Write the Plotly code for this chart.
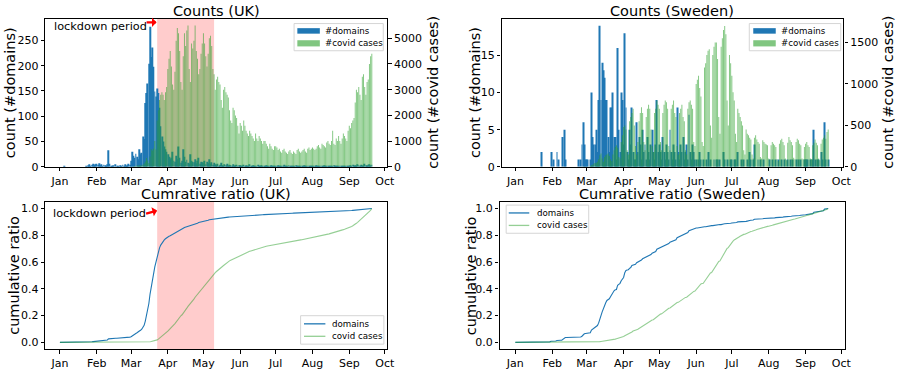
import numpy as np
import pandas as pd
import plotly.graph_objects as go

# ---------------- data (daily, 2020-01-01 .. 2020-09-20) ----------------
start_date = "2020-01-01"
n_days = 264

uk_domains = [
    0,0,0,0,1,0,0,0,0,0, 0,0,0,0,0,0,0,0,0,0, 0,0,2,0,3,5,2,4,6,3,5,
    6,4,7,3,5,2,4,3,1,5, 33,6,2,1,3,0,5,2,1,0, 3,2,4,1,5,2,3,6,4,
    12,30,22,18,26,20,15,35,25,28, 60,55,126,146,165,204,277,217,236,198, 149,139,155,146,117,80,60,50,40,35, 30,
    25,20,15,18,30,12,10,22,15,40, 18,8,12,35,20,10,14,8,6,25, 12,10,9,15,7,12,18,6,10,9,
    8,12,5,10,7,15,6,9,4,8, 5,3,6,2,4,8,3,2,5,3, 6,2,4,3,1,5,2,3,4,2, 3,
    3,2,1,4,2,3,1,2,5,2, 1,3,2,1,2,4,1,2,3,1, 2,1,3,2,1,2,3,1,2,1,
    2,1,3,1,2,1,2,4,1,2, 1,3,1,2,1,2,1,3,2,1, 2,1,1,2,3,1,2,1,2,1, 2,
    1,2,1,3,1,2,1,1,2,1, 3,1,2,1,1,2,1,1,3,1, 2,1,1,2,1,1,2,1,1,2, 1,
    2,3,1,4,2,3,2,5,3,2, 4,2,3,6,3,2,4,5,3,4,
]

uk_cases = [
    0,0,0,0,0,0,0,0,0,0, 0,0,0,0,0,0,0,0,0,0, 0,0,0,0,0,0,0,0,0,0, 2,
    0,0,0,0,0,0,0,0,1,0, 1,0,0,0,0,0,0,0,0,0, 0,0,0,0,4,0,2,5,3,
    2,5,12,30,35,48,50,60,50,55, 85,130,210,340,250,150,400,680,640,710,
    1000,670,1800,2200,2600,2800,2900,2800,2600,2900, 3100,
    3800,4200,4500,3900,3200,3000,3700,4900,5400,5200, 4500,3300,3000,4300,5200,4700,5300,5500,3800,3300,
    4800,4600,4900,5500,4500,4200,3600,3800,4400,4800,
    5200,4800,4300,3900,4400,5000,5100,4700,3800,3600, 3000,3400,3500,3300,3200,2600,2300,3000,3100,2900,
    2800,2700,2200,1800,1700,2300,2200,2000,1900,1600, 1300,
    1700,1600,1400,1800,1600,1400,1300, 1200,1400,1300,1200,1100,1000,1300, 1100,1000,1200,1100,1000,900,1000,
    1000,900,800,700,900,800,700, 650,800,
    800,750,650,700,600,550,650, 700,600,550,500,600,650,550, 500,600,550,500,650,700,600,
    550,600,650,700,600,550,700, 750,650,700,
    750,700,650,700,800,850,750, 700,900,850,800,750,950,1000, 900,850,1000,1400,900,850,1100,
    1000,1200,1000,900,1100,1300,1200, 1100,1000,1400,
    1600,1500,1700,1800,1900,2500,3000, 2900,3100,2800,2600,3500,3600,3100, 2800,3300,3400,4000,4300,4400,
]

se_domains = [
    0,0,0,0,0,0,0,0,0,0, 0,0,0,0,0,0,0,0,0,0, 0,0,2,0,0,0,0,0,0,0, 2,
    0,1,0,0,2,1,0,0,0,4, 5,1,0,0,0,0,0,0,0,0, 0,0,1,0,1,3,6,3,1,
    1,1,0,1,10,4,3,3,5,2, 9,19,9,14,13,12,9,9,4,2, 8,8,10,4,4,1,16,5,2,10, 9,
    3,18,8,2,1,5,3,8,2,1, 1,6,2,4,3,1,5,2,3,1, 4,2,1,3,5,2,1,3,9,2,
    3,2,1,4,2,1,3,2,1,5, 2,1,3,2,1,8,2,1,3,2, 4,1,2,3,1,7,2,1,3,2, 1,
    1,0,1,2,1,0,1,0,0,1, 2,0,1,0,0,1,0,1,1,0, 1,0,0,2,1,0,1,0,0,1,
    1,0,1,1,0,2,0,0,1,0, 1,0,0,1,0,2,1,0,1,3, 0,0,1,0,1,0,0,1,0,0, 0,
    0,1,0,1,0,0,1,0,1,0, 0,1,0,1,0,0,1,0,1,0, 1,0,0,1,0,1,0,1,0,0, 1,
    1,1,1,0,1,0,1,5,1,0, 1,1,0,2,1,0,6,1,0,1,
]

se_cases = [
    0,0,0,0,0,0,0,0,0,0, 0,0,0,0,0,0,0,0,0,0, 0,0,0,0,0,0,0,0,0,0, 1,
    0,0,0,0,0,0,0,0,0,0, 0,0,0,0,0,0,0,0,0,0, 0,0,0,0,0,1,5,3,2,
    2,5,5,10,20,25,40,45,50,60, 90,140,160,100,60,120,140,150,160,130,
    90,70,150,200,240,260,230,120,100,300, 380,
    480,500,450,200,150,550,600,650,700,500, 250,150,300,550,650,720,650,300,200,600,
    700,750,700,450,250,180,650,700,800,750,
    700,300,200,650,750,800,780,700,250,200, 700,750,800,650,600,250,150,650,700,750,
    600,550,200,150,700,780,800,750,700,300, 250,
    1000,1050,1100,950,850,300,250,1200,1250,1350, 1400,1420,500,350,1350,1450,1500,1500,1300,600,
    400,1450,1550,1650,1700,1600,800,500,1350,1250,
    1100,900,800,400,300,700,650,600,550,500, 200,150,450,400,380,350,330,150,100,350,
    380,330,300,280,120,100,320,300,280,270, 260,
    100,90,260,300,280,260,240,90,70,280, 320,340,300,260,100,80,290,360,320,300,
    260,110,90,300,340,320,280,260,100,90, 240,
    280,300,260,240,100,90,260,290,330,290, 260,100,80,280,330,350,380,340,420,450,
]

month_ticks = ["2020-01-01", "2020-02-01", "2020-03-01", "2020-04-01", "2020-05-01",
               "2020-06-01", "2020-07-01", "2020-08-01", "2020-09-01", "2020-10-01"]
month_labels = ["Jan", "Feb", "Mar", "Apr", "May", "Jun", "Jul", "Aug", "Sep", "Oct"]
lockdown_start, lockdown_end = "2020-03-23", "2020-05-10"

# ---------------- derived ----------------
dates = pd.date_range(start_date, periods=n_days, freq="D")
uk_dom_cum = np.cumsum(uk_domains) / np.sum(uk_domains)
uk_case_cum = np.cumsum(uk_cases) / np.sum(uk_cases)
se_dom_cum = np.cumsum(se_domains) / np.sum(se_domains)
se_case_cum = np.cumsum(se_cases) / np.sum(se_cases)

W, H = 901, 375
def px(x): return x / W
def py(y): return 1 - y / H

BLUE = "#1f77b4"
GREEN_BAR = "rgba(44,160,44,0.6)"
GREEN_LINE = "rgba(44,160,44,0.5)"
FONT = "DejaVu Sans"
DAY_MS = 86400000
bw = 0.8 * DAY_MS

fig = go.Figure()
fig.add_trace(go.Bar(x=dates, y=uk_domains, width=bw, marker=dict(color=BLUE, line=dict(width=0)),
                     xaxis="x", yaxis="y", name="#domains", showlegend=False))
fig.add_trace(go.Bar(x=dates, y=uk_cases, width=bw, marker=dict(color=GREEN_BAR, line=dict(width=0)),
                     xaxis="x", yaxis="y2", name="#covid cases", showlegend=False))
fig.add_trace(go.Bar(x=dates, y=se_domains, width=bw, marker=dict(color=BLUE, line=dict(width=0)),
                     xaxis="x2", yaxis="y3", name="#domains", showlegend=False))
fig.add_trace(go.Bar(x=dates, y=se_cases, width=bw, marker=dict(color=GREEN_BAR, line=dict(width=0)),
                     xaxis="x2", yaxis="y4", name="#covid cases", showlegend=False))
fig.add_trace(go.Scatter(x=dates, y=uk_dom_cum, mode="lines", line=dict(color=BLUE, width=1.1),
                         xaxis="x3", yaxis="y5", showlegend=False))
fig.add_trace(go.Scatter(x=dates, y=uk_case_cum, mode="lines", line=dict(color=GREEN_LINE, width=1.1),
                         xaxis="x3", yaxis="y5", showlegend=False))
fig.add_trace(go.Scatter(x=dates, y=se_dom_cum, mode="lines", line=dict(color=BLUE, width=1.1),
                         xaxis="x4", yaxis="y6", showlegend=False))
fig.add_trace(go.Scatter(x=dates, y=se_case_cum, mode="lines", line=dict(color=GREEN_LINE, width=1.1),
                         xaxis="x4", yaxis="y6", showlegend=False))

tickfont = dict(family=FONT, size=11, color="black")
common_x = dict(type="date", tickvals=month_ticks, ticktext=month_labels, ticks="outside",
                ticklen=3.5, tickwidth=1, tickcolor="black", showline=True, linecolor="black",
                linewidth=1.3, mirror=True, showgrid=False, zeroline=False, tickfont=tickfont)
common_y = dict(ticks="outside", ticklen=3.5, tickwidth=1, tickcolor="black", showline=True,
                linecolor="black", linewidth=1.3, mirror=True, showgrid=False, zeroline=False,
                tickfont=tickfont)

top_dom = [py(170), py(19)]
bot_dom = [py(355.7), py(205.7)]

fig.update_layout(
    width=W, height=H, margin=dict(l=0, r=0, t=0, b=0),
    paper_bgcolor="white", plot_bgcolor="white", barmode="overlay",
    font=dict(family=FONT, color="black"), showlegend=False,
    xaxis=dict(common_x, domain=[px(45.7), px(390.7)], anchor="y",
               range=["2019-12-19 16:00", "2020-10-03 00:00"]),
    yaxis=dict(common_y, domain=top_dom, anchor="x", range=[0, 293], tickvals=[0, 50, 100, 150, 200, 250]),
    yaxis2=dict(common_y, overlaying="y", side="right", anchor="x", range=[0, 5763],
                tickvals=[0, 1000, 2000, 3000, 4000, 5000], mirror=False),
    xaxis2=dict(common_x, domain=[px(506), px(851)], anchor="y3",
                range=["2019-12-20 08:00", "2020-10-02 20:00"]),
    yaxis3=dict(common_y, domain=top_dom, anchor="x2", range=[0, 19.95], tickvals=[0, 5, 10, 15]),
    yaxis4=dict(common_y, overlaying="y3", side="right", anchor="x2", range=[0, 1788],
                tickvals=[0, 500, 1000, 1500], mirror=False),
    xaxis3=dict(common_x, domain=[px(45.7), px(390.7)], anchor="y5",
                range=["2019-12-19 16:00", "2020-10-03 00:00"]),
    yaxis5=dict(common_y, domain=bot_dom, anchor="x3", range=[-0.05, 1.05],
                tickvals=[0, 0.2, 0.4, 0.6, 0.8, 1.0], tickformat=".1f"),
    xaxis4=dict(common_x, domain=[px(504), px(852.7)], anchor="y6",
                range=["2019-12-18 17:00", "2020-10-04 06:00"]),
    yaxis6=dict(common_y, domain=bot_dom, anchor="x4", range=[-0.05, 1.05],
                tickvals=[0, 0.2, 0.4, 0.6, 0.8, 1.0], tickformat=".1f"),
)

shapes = []
# lockdown shading
for xr, yr in (("x", "y"), ("x3", "y5")):
    shapes.append(dict(type="rect", xref=xr, yref=yr + " domain", x0=lockdown_start, x1=lockdown_end,
                       y0=0, y1=1, fillcolor="rgba(255,0,0,0.2)", line=dict(width=0), layer="below"))

annotations = []
def text(x, y, s, size, xanchor="center", **kw):
    d = dict(x=px(x), y=py(y), xref="paper", yref="paper", text=s, showarrow=False,
             xanchor=xanchor, yanchor="middle", font=dict(family=FONT, size=size, color="black"))
    d.update(kw)
    annotations.append(d)

# titles
text(218.2, 11.5, "Counts (UK)", 14.5)
text(678.5, 11.5, "Counts (Sweden)", 14.5)
text(218.2, 197.5, "Cumrative ratio (UK)", 14.5)
text(678.5, 197.5, "Cumrative ratio (Sweden)", 14.5)
# axis titles
text(9.5, 94.5, "count (#domains)", 14.5, textangle=-90)
text(478.5, 94.5, "count (#domains)", 14.5, textangle=-90)
text(437, 94.5, "count (#covid cases)", 14.5, textangle=-90)
text(896, 94.5, "count (#covid cases)", 14.5, textangle=-90)
text(14.5, 280.7, "cumulative ratio", 14.5, textangle=-90)
text(476, 280.7, "cumulative ratio", 14.5, textangle=-90)

# lockdown annotations
text(52, 26.7, "lockdown period", 11.3, xanchor="left")
text(51.5, 217.5, "lockdown period", 11.3, xanchor="left")
annotations.append(dict(x=px(158), y=py(22.7), xref="paper", yref="paper", ax=-11.5, ay=0, text="",
                        showarrow=True, arrowhead=1, arrowsize=0.7, arrowwidth=2.2, arrowcolor="red"))
annotations.append(dict(x=px(158.5), y=py(214.6), xref="paper", yref="paper", ax=-12.5, ay=3.4, text="",
                        showarrow=True, arrowhead=1, arrowsize=0.7, arrowwidth=2.2, arrowcolor="red"))

# legends (drawn by hand)
def frame(x0, y0, x1, y1):
    shapes.append(dict(type="rect", xref="paper", yref="paper", x0=px(x0), x1=px(x1), y0=py(y1), y1=py(y0),
                       fillcolor="rgba(255,255,255,0.8)", line=dict(color="#d5d5d5", width=1), layer="above"))

def patch(x0, y0, x1, y1, color):
    shapes.append(dict(type="rect", xref="paper", yref="paper", x0=px(x0), x1=px(x1), y0=py(y1), y1=py(y0),
                       fillcolor=color, line=dict(width=0), layer="above"))

def lline(x0, x1, y, color):
    shapes.append(dict(type="line", xref="paper", yref="paper", x0=px(x0), x1=px(x1), y0=py(y), y1=py(y),
                       line=dict(color=color, width=1.3), layer="above"))

LEG = 8.7
# UK counts legend
frame(296.7, 24, 386.7, 51.7)
patch(300, 28.7, 322.7, 34.3, BLUE)
patch(300, 41, 322.7, 47.3, GREEN_BAR)
text(326, 31.6, "#domains", LEG, xanchor="left")
text(326, 44.2, "#covid cases", LEG, xanchor="left")
# Sweden counts legend
frame(756, 24, 848.3, 51.7)
patch(760, 28.7, 782.7, 34.3, BLUE)
patch(760, 41, 782.7, 47.3, GREEN_BAR)
text(786, 31.6, "#domains", LEG, xanchor="left")
text(786, 44.2, "#covid cases", LEG, xanchor="left")
# UK cumulative legend
frame(303.3, 321.7, 387.3, 350.7)
lline(306.7, 328.3, 330, BLUE)
lline(306.7, 328.3, 342.7, GREEN_LINE)
text(332.7, 330, "domains", LEG, xanchor="left")
text(332.7, 342.7, "covid cases", LEG, xanchor="left")
# Sweden cumulative legend
frame(510.7, 209, 594, 237.7)
lline(513.3, 534, 217, BLUE)
lline(513.3, 534, 229.7, GREEN_LINE)
text(539.3, 217, "domains", LEG, xanchor="left")
text(539.3, 229.7, "covid cases", LEG, xanchor="left")

fig.update_layout(shapes=shapes, annotations=annotations)
fig.write_html("out.html", config={"displayModeBar": False},
               post_script="document.body.style.margin='0px';document.body.style.overflow='hidden';")
